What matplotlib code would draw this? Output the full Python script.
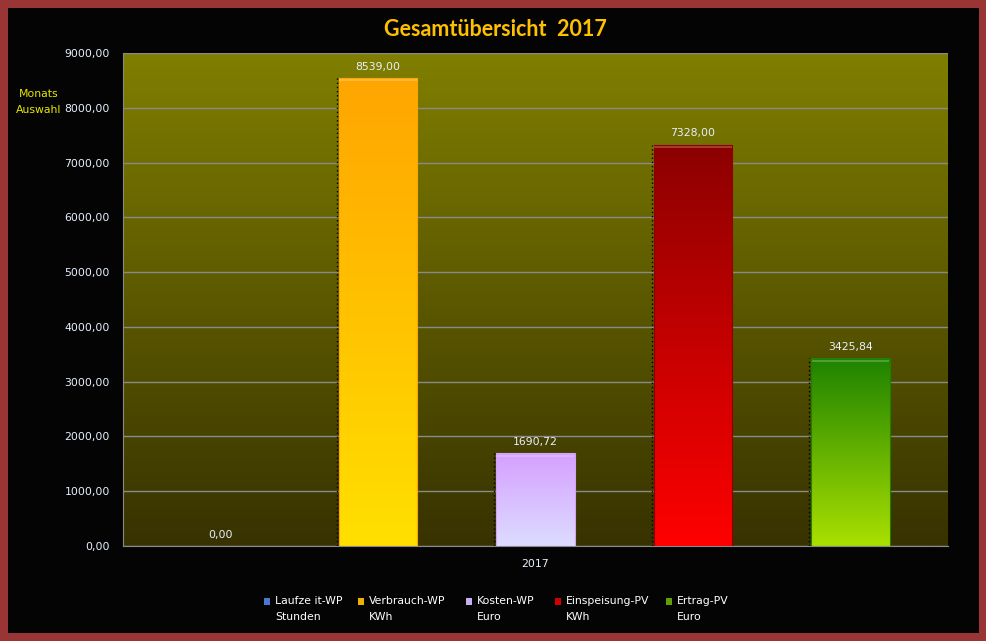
import numpy as np
import matplotlib
matplotlib.use('Agg')
import matplotlib.pyplot as plt
from matplotlib.patches import Rectangle
from matplotlib.colors import LinearSegmentedColormap

# chart data
categories = ['Laufze it-WP', 'Verbrauch-WP', 'Kosten-WP', 'Einspeisung-PV', 'Ertrag-PV']
units = ['Stunden', 'KWh', 'Euro', 'KWh', 'Euro']
values = [0.00, 8539.00, 1690.72, 7328.00, 3425.84]
year_label = '2017'
yticks = [0, 1000, 2000, 3000, 4000, 5000, 6000, 7000, 8000, 9000]

# gradient colours per bar (top, bottom) and legend colour
bar_top = ['#3a62c0', '#ffa500', '#d6a0ff', '#8c0000', '#1e8200']
bar_bottom = ['#6f9be8', '#ffe000', '#dcdcff', '#ff0000', '#aae000']
legend_cols = ['#4a78d0', '#f0b000', '#c8b0f0', '#d00000', '#60a000']

W, H = 987, 641
fs = 7.8
txt = '#e8f0ff'
fig = plt.figure(figsize=(W / 100, H / 100), dpi=100)
fig.patch.set_facecolor('#993535')
fig.add_artist(Rectangle((8 / W, 8 / H), 971 / W, 625 / H, transform=fig.transFigure,
                         facecolor='#040404', edgecolor='none', zorder=0))

ax = fig.add_axes([123 / W, 1 - 546 / H, 825 / W, 493 / H])
ax.set_facecolor('none')

x = np.arange(len(values))
bw = 0.5
xlim = (-0.25 - 0.368, len(values) - 0.75 + 0.368)
ax.set_ylim(0, 9000)

# plot area gradient
bg = LinearSegmentedColormap.from_list('bg', ['#373200', '#807f00'])
ax.imshow(np.linspace(0, 1, 256).reshape(-1, 1), cmap=bg, origin='lower', aspect='auto',
          extent=[*xlim, 0, 9000], zorder=0)

ax.set_yticks(yticks)
ax.yaxis.grid(True, color='#8a8a8a', linewidth=1)
for g in ax.get_ygridlines():
    g.set_zorder(0.5)

bars = ax.bar(x, values, width=bw, color='none', edgecolor='none', zorder=2)
for i, b in enumerate(bars):
    h = b.get_height()
    if h <= 0:
        continue
    cm = LinearSegmentedColormap.from_list('c%d' % i, [bar_bottom[i], bar_top[i]])
    im = ax.imshow(np.linspace(0, 1, 256).reshape(-1, 1), cmap=cm, origin='lower',
                   aspect='auto', extent=[b.get_x(), b.get_x() + bw, 0, h], zorder=2)
    im.set_clip_path(b)
    ax.bar(x[i], h, width=bw, color='none', edgecolor=bar_top[i], linewidth=0.8, zorder=3)
    # light bevel on top edge
    ax.plot([b.get_x() + 0.01, b.get_x() + bw - 0.01], [h - 40, h - 40], color='white',
            alpha=0.22, linewidth=1.5, zorder=3)
    ax.plot([b.get_x() - 0.012, b.get_x() - 0.012], [0, h], color='black', linestyle=(0, (1, 2)),
            linewidth=1, zorder=3)

for xi, v in zip(x, values):
    ax.annotate(f'{v:.2f}'.replace('.', ','), (xi, v), xytext=(0, 4.5), textcoords='offset points',
                ha='center', va='bottom', color=txt, fontsize=fs)
ax.set_xlim(*xlim)

ax.set_yticklabels([f'{t:.2f}'.replace('.', ',') for t in yticks], color=txt, fontsize=fs)
ax.set_xticks([np.mean(x)])
ax.set_xticklabels([year_label], color=txt, fontsize=fs)
ax.tick_params(axis='y', length=0, pad=9.4)
ax.tick_params(axis='x', length=0, pad=9.5)
for s in ['top', 'right']:
    ax.spines[s].set_visible(False)
for s in ['left', 'bottom']:
    ax.spines[s].set_color('#8a8a8a')

fig.text(495 / W, 1 - 30 / H, 'Gesamtübersicht  2017', ha='center', va='center',
         color='#ffc000', fontsize=15.5, fontweight='bold', family='Lato')
fig.text(39 / W, 1 - 94 / H, 'Monats', ha='center', va='center', color='#e6e600', fontsize=fs)
fig.text(39 / W, 1 - 110 / H, 'Auswahl', ha='center', va='center', color='#e6e600', fontsize=fs)

# legend
sq_x = [264, 358, 466, 555, 666]
tx_x = [275, 369, 477, 566, 677]
for i in range(len(categories)):
    fig.add_artist(Rectangle((sq_x[i] / W, 1 - 605 / H), 6 / W, 7 / H, transform=fig.transFigure,
                             facecolor=legend_cols[i], edgecolor='none'))
    fig.text(tx_x[i] / W, 1 - 601 / H, categories[i], ha='left', va='center',
             color='white', fontsize=fs)
    fig.text(tx_x[i] / W, 1 - 617 / H, units[i], ha='left', va='center',
             color='white', fontsize=fs)

fig.savefig('out.png', dpi=100, facecolor=fig.get_facecolor())
